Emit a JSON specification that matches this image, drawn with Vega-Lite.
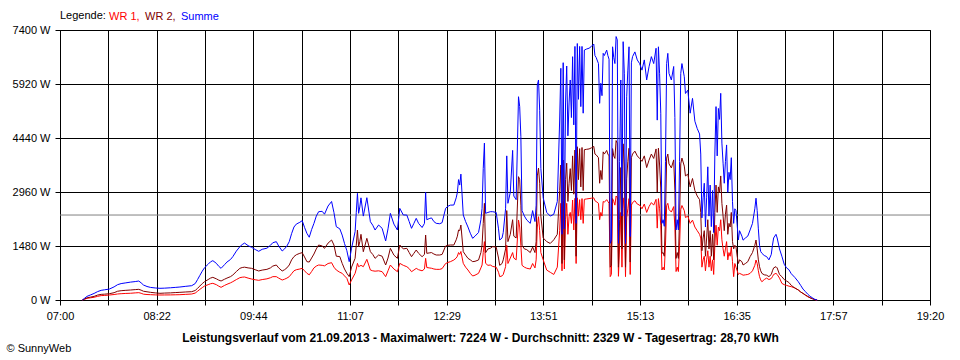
{
  "$schema": "https://vega.github.io/schema/vega-lite/v6.json",
  "width": 870,
  "height": 270,
  "autosize": {"type": "none"},
  "padding": {"left": 60, "top": 30, "right": 30, "bottom": 60},
  "background": "white",
  "config": {
    "view": {"stroke": "black", "strokeWidth": 1},
    "font": "Liberation Sans",
    "axis": {
      "labelFont": "Liberation Sans", "labelFontSize": 11, "labelColor": "black",
      "titleFont": "Liberation Sans", "titleColor": "black",
      "grid": true, "gridColor": "black", "gridOpacity": 1, "gridWidth": 1,
      "domainColor": "black", "tickColor": "black", "tickSize": 5
    },
    "legend": {
      "labelFont": "Liberation Sans", "titleFont": "Liberation Sans"
    }
  },
  "data": {
    "values": [
      {"t":439,"WR1":0,"WR2":0,"Summe":0},
      {"t":441,"WR1":20,"WR2":30,"Summe":50},
      {"t":443,"WR1":45,"WR2":60,"Summe":100},
      {"t":446,"WR1":60,"WR2":80,"Summe":140},
      {"t":449,"WR1":75,"WR2":100,"Summe":180},
      {"t":452,"WR1":100,"WR2":135,"Summe":230},
      {"t":455,"WR1":120,"WR2":155,"Summe":265},
      {"t":458,"WR1":125,"WR2":160,"Summe":280},
      {"t":462,"WR1":137,"WR2":173,"Summe":300},
      {"t":466,"WR1":150,"WR2":200,"Summe":360},
      {"t":469,"WR1":165,"WR2":240,"Summe":420},
      {"t":472,"WR1":173,"WR2":255,"Summe":450},
      {"t":476,"WR1":180,"WR2":265,"Summe":470},
      {"t":480,"WR1":185,"WR2":274,"Summe":490},
      {"t":484,"WR1":195,"WR2":285,"Summe":505},
      {"t":487,"WR1":201,"WR2":292,"Summe":520},
      {"t":489,"WR1":185,"WR2":270,"Summe":470},
      {"t":491,"WR1":160,"WR2":240,"Summe":411},
      {"t":494,"WR1":150,"WR2":225,"Summe":370},
      {"t":497,"WR1":146,"WR2":210,"Summe":345},
      {"t":501,"WR1":140,"WR2":195,"Summe":330},
      {"t":505,"WR1":137,"WR2":183,"Summe":320},
      {"t":509,"WR1":138,"WR2":190,"Summe":325},
      {"t":514,"WR1":140,"WR2":195,"Summe":335},
      {"t":518,"WR1":143,"WR2":203,"Summe":345},
      {"t":522,"WR1":146,"WR2":210,"Summe":356},
      {"t":527,"WR1":155,"WR2":220,"Summe":375},
      {"t":532,"WR1":164,"WR2":228,"Summe":392},
      {"t":535,"WR1":190,"WR2":260,"Summe":450},
      {"t":537,"WR1":240,"WR2":320,"Summe":560},
      {"t":539,"WR1":292,"WR2":384,"Summe":676},
      {"t":541,"WR1":340,"WR2":450,"Summe":790},
      {"t":543,"WR1":384,"WR2":503,"Summe":887},
      {"t":546,"WR1":420,"WR2":560,"Summe":980},
      {"t":548,"WR1":445,"WR2":600,"Summe":1045},
      {"t":550,"WR1":457,"WR2":621,"Summe":1078},
      {"t":553,"WR1":420,"WR2":580,"Summe":1005},
      {"t":555,"WR1":380,"WR2":545,"Summe":925},
      {"t":557,"WR1":347,"WR2":521,"Summe":868},
      {"t":560,"WR1":400,"WR2":570,"Summe":970},
      {"t":562,"WR1":430,"WR2":600,"Summe":1040},
      {"t":565,"WR1":470,"WR2":640,"Summe":1110},
      {"t":567,"WR1":503,"WR2":685,"Summe":1188},
      {"t":570,"WR1":560,"WR2":780,"Summe":1340},
      {"t":573,"WR1":612,"WR2":868,"Summe":1462},
      {"t":575,"WR1":625,"WR2":890,"Summe":1520},
      {"t":577,"WR1":630,"WR2":900,"Summe":1560},
      {"t":580,"WR1":600,"WR2":880,"Summe":1490},
      {"t":583,"WR1":575,"WR2":868,"Summe":1443},
      {"t":586,"WR1":555,"WR2":830,"Summe":1385},
      {"t":589,"WR1":539,"WR2":795,"Summe":1334},
      {"t":592,"WR1":560,"WR2":820,"Summe":1390},
      {"t":596,"WR1":580,"WR2":840,"Summe":1420},
      {"t":599,"WR1":610,"WR2":880,"Summe":1500},
      {"t":601,"WR1":640,"WR2":930,"Summe":1570},
      {"t":604,"WR1":640,"WR2":959,"Summe":1599},
      {"t":606,"WR1":600,"WR2":880,"Summe":1480},
      {"t":609,"WR1":548,"WR2":795,"Summe":1343},
      {"t":611,"WR1":570,"WR2":830,"Summe":1400},
      {"t":613,"WR1":600,"WR2":880,"Summe":1480},
      {"t":615,"WR1":640,"WR2":960,"Summe":1600},
      {"t":617,"WR1":720,"WR2":1100,"Summe":1820},
      {"t":619,"WR1":800,"WR2":1190,"Summe":2000},
      {"t":621,"WR1":830,"WR2":1240,"Summe":2080},
      {"t":624,"WR1":850,"WR2":1280,"Summe":2130},
      {"t":626,"WR1":868,"WR2":1297,"Summe":2174},
      {"t":628,"WR1":800,"WR2":1180,"Summe":1990},
      {"t":630,"WR1":731,"WR2":1051,"Summe":1827},
      {"t":632,"WR1":690,"WR2":1040,"Summe":1720},
      {"t":634,"WR1":780,"WR2":1150,"Summe":1930},
      {"t":636,"WR1":880,"WR2":1260,"Summe":2100},
      {"t":638,"WR1":930,"WR2":1400,"Summe":2300},
      {"t":640,"WR1":959,"WR2":1507,"Summe":2420},
      {"t":643,"WR1":950,"WR2":1480,"Summe":2430},
      {"t":645,"WR1":936,"WR2":1416,"Summe":2352},
      {"t":648,"WR1":1000,"WR2":1560,"Summe":2576},
      {"t":651,"WR1":1023,"WR2":1644,"Summe":2700},
      {"t":653,"WR1":900,"WR2":1507,"Summe":2400},
      {"t":655,"WR1":822,"WR2":1200,"Summe":2010},
      {"t":658,"WR1":760,"WR2":1190,"Summe":1950},
      {"t":660,"WR1":731,"WR2":1005,"Summe":1780},
      {"t":662,"WR1":660,"WR2":850,"Summe":1550},
      {"t":664,"WR1":594,"WR2":731,"Summe":1350},
      {"t":666,"WR1":411,"WR2":640,"Summe":1051},
      {"t":668,"WR1":550,"WR2":900,"Summe":1420},
      {"t":671,"WR1":731,"WR2":1142,"Summe":1873},
      {"t":672,"WR1":850,"WR2":1500,"Summe":2400},
      {"t":673,"WR1":1005,"WR2":1918,"Summe":2923},
      {"t":674,"WR1":913,"WR2":1462,"Summe":2375},
      {"t":675,"WR1":930,"WR2":1600,"Summe":2550},
      {"t":676,"WR1":950,"WR2":1800,"Summe":2800},
      {"t":678,"WR1":913,"WR2":1324,"Summe":2300},
      {"t":681,"WR1":1114,"WR2":1690,"Summe":2804},
      {"t":684,"WR1":822,"WR2":1324,"Summe":2146},
      {"t":686,"WR1":800,"WR2":1250,"Summe":2050},
      {"t":688,"WR1":790,"WR2":1142,"Summe":1918},
      {"t":691,"WR1":800,"WR2":1233,"Summe":2055},
      {"t":694,"WR1":776,"WR2":1200,"Summe":1964},
      {"t":697,"WR1":640,"WR2":959,"Summe":1620},
      {"t":699,"WR1":800,"WR2":1150,"Summe":1950},
      {"t":701,"WR1":959,"WR2":1416,"Summe":2375},
      {"t":704,"WR1":850,"WR2":1230,"Summe":2080},
      {"t":707,"WR1":776,"WR2":1142,"Summe":1918},
      {"t":709,"WR1":1005,"WR2":1507,"Summe":2512},
      {"t":712,"WR1":950,"WR2":1400,"Summe":2330},
      {"t":715,"WR1":913,"WR2":1416,"Summe":2329},
      {"t":717,"WR1":860,"WR2":1300,"Summe":2150},
      {"t":719,"WR1":776,"WR2":1187,"Summe":1964},
      {"t":721,"WR1":820,"WR2":1280,"Summe":2100},
      {"t":723,"WR1":867,"WR2":1370,"Summe":2238},
      {"t":725,"WR1":830,"WR2":1280,"Summe":2100},
      {"t":728,"WR1":800,"WR2":1187,"Summe":1987},
      {"t":730,"WR1":850,"WR2":1250,"Summe":2100},
      {"t":731,"WR1":1142,"WR2":1781,"Summe":2950},
      {"t":732,"WR1":890,"WR2":1279,"Summe":2200},
      {"t":734,"WR1":880,"WR2":1290,"Summe":2230},
      {"t":736,"WR1":870,"WR2":1300,"Summe":2250},
      {"t":738,"WR1":850,"WR2":1260,"Summe":2150},
      {"t":740,"WR1":840,"WR2":1233,"Summe":2101},
      {"t":743,"WR1":840,"WR2":1233,"Summe":2090},
      {"t":745,"WR1":860,"WR2":1250,"Summe":2120},
      {"t":748,"WR1":1000,"WR2":1480,"Summe":2512},
      {"t":750,"WR1":1030,"WR2":1500,"Summe":2570},
      {"t":752,"WR1":1050,"WR2":1507,"Summe":2600},
      {"t":755,"WR1":1096,"WR2":1507,"Summe":2603},
      {"t":757,"WR1":1150,"WR2":1650,"Summe":2800},
      {"t":758,"WR1":1200,"WR2":1750,"Summe":2950},
      {"t":759,"WR1":1300,"WR2":1918,"Summe":3300},
      {"t":760,"WR1":1250,"WR2":1900,"Summe":3150},
      {"t":761,"WR1":1330,"WR2":2055,"Summe":3450},
      {"t":763,"WR1":1005,"WR2":1324,"Summe":2330},
      {"t":765,"WR1":900,"WR2":1230,"Summe":2150},
      {"t":767,"WR1":822,"WR2":1142,"Summe":2000},
      {"t":769,"WR1":730,"WR2":1100,"Summe":1830},
      {"t":771,"WR1":658,"WR2":1051,"Summe":1690},
      {"t":773,"WR1":680,"WR2":1060,"Summe":1750},
      {"t":776,"WR1":731,"WR2":1096,"Summe":1850},
      {"t":778,"WR1":880,"WR2":1300,"Summe":2200},
      {"t":779,"WR1":959,"WR2":1507,"Summe":2512},
      {"t":780,"WR1":1300,"WR2":2100,"Summe":3600},
      {"t":781,"WR1":1600,"WR2":2650,"Summe":4300},
      {"t":782,"WR1":1005,"WR2":1296,"Summe":2375},
      {"t":784,"WR1":950,"WR2":1400,"Summe":2400},
      {"t":786,"WR1":959,"WR2":1416,"Summe":2420},
      {"t":788,"WR1":920,"WR2":1462,"Summe":2420},
      {"t":791,"WR1":900,"WR2":1450,"Summe":2400},
      {"t":793,"WR1":760,"WR2":1150,"Summe":1950},
      {"t":794,"WR1":640,"WR2":950,"Summe":1644},
      {"t":796,"WR1":660,"WR2":1000,"Summe":1700},
      {"t":797,"WR1":700,"WR2":1100,"Summe":1850},
      {"t":799,"WR1":913,"WR2":1400,"Summe":2500},
      {"t":800,"WR1":1500,"WR2":2450,"Summe":3950},
      {"t":801,"WR1":1000,"WR2":1600,"Summe":2650},
      {"t":803,"WR1":1150,"WR2":1800,"Summe":2950},
      {"t":805,"WR1":1300,"WR2":2200,"Summe":4100},
      {"t":806,"WR1":1150,"WR2":1750,"Summe":2850},
      {"t":808,"WR1":1100,"WR2":1700,"Summe":2750},
      {"t":810,"WR1":2193,"WR2":3380,"Summe":5571},
      {"t":811,"WR1":2000,"WR2":3300,"Summe":5300},
      {"t":812,"WR1":1500,"WR2":2600,"Summe":4476},
      {"t":813,"WR1":950,"WR2":1500,"Summe":2450},
      {"t":815,"WR1":900,"WR2":1400,"Summe":2300},
      {"t":817,"WR1":870,"WR2":1380,"Summe":2193},
      {"t":820,"WR1":850,"WR2":1300,"Summe":2100},
      {"t":822,"WR1":1000,"WR2":1450,"Summe":2450},
      {"t":824,"WR1":880,"WR2":1300,"Summe":2150},
      {"t":825,"WR1":1100,"WR2":1600,"Summe":2600},
      {"t":826,"WR1":2000,"WR2":3400,"Summe":5892},
      {"t":827,"WR1":2283,"WR2":3617,"Summe":6030},
      {"t":828,"WR1":1900,"WR2":3200,"Summe":5200},
      {"t":829,"WR1":1300,"WR2":2300,"Summe":3600},
      {"t":831,"WR1":1100,"WR2":1700,"Summe":2800},
      {"t":834,"WR1":820,"WR2":1600,"Summe":2400},
      {"t":837,"WR1":760,"WR2":1550,"Summe":2300},
      {"t":840,"WR1":700,"WR2":1650,"Summe":2350},
      {"t":843,"WR1":900,"WR2":1800,"Summe":2700},
      {"t":845,"WR1":1900,"WR2":3000,"Summe":4933},
      {"t":846,"WR1":2650,"WR2":3700,"Summe":6350},
      {"t":847,"WR1":800,"WR2":1000,"Summe":1800},
      {"t":848,"WR1":2700,"WR2":3837,"Summe":6504},
      {"t":849,"WR1":850,"WR2":1100,"Summe":1950},
      {"t":850,"WR1":2200,"WR2":3300,"Summe":5400},
      {"t":851,"WR1":2650,"WR2":3750,"Summe":6413},
      {"t":852,"WR1":1800,"WR2":2700,"Summe":4500},
      {"t":853,"WR1":2283,"WR2":3200,"Summe":5400},
      {"t":854,"WR1":2400,"WR2":3600,"Summe":6030},
      {"t":855,"WR1":2100,"WR2":3000,"Summe":5000},
      {"t":856,"WR1":2740,"WR2":3950,"Summe":6669},
      {"t":857,"WR1":1918,"WR2":2900,"Summe":4800},
      {"t":858,"WR1":2786,"WR2":4110,"Summe":6950},
      {"t":859,"WR1":1000,"WR2":1200,"Summe":2100},
      {"t":860,"WR1":2800,"WR2":4200,"Summe":7030},
      {"t":861,"WR1":2300,"WR2":3300,"Summe":5500},
      {"t":862,"WR1":2750,"WR2":4150,"Summe":6950},
      {"t":863,"WR1":2200,"WR2":3100,"Summe":5300},
      {"t":864,"WR1":2780,"WR2":4180,"Summe":6950},
      {"t":865,"WR1":2100,"WR2":3000,"Summe":5120},
      {"t":866,"WR1":2760,"WR2":4120,"Summe":6850},
      {"t":868,"WR1":2770,"WR2":4130,"Summe":6880},
      {"t":870,"WR1":2780,"WR2":4140,"Summe":6900},
      {"t":872,"WR1":2790,"WR2":4170,"Summe":6950},
      {"t":874,"WR1":2800,"WR2":4210,"Summe":7016},
      {"t":875,"WR1":2720,"WR2":4000,"Summe":6700},
      {"t":876,"WR1":2700,"WR2":3980,"Summe":6650},
      {"t":878,"WR1":2650,"WR2":3900,"Summe":6480},
      {"t":879,"WR1":2200,"WR2":3200,"Summe":5390},
      {"t":880,"WR1":2400,"WR2":3550,"Summe":5940},
      {"t":881,"WR1":2300,"WR2":3300,"Summe":5600},
      {"t":882,"WR1":2700,"WR2":4060,"Summe":6760},
      {"t":883,"WR1":2680,"WR2":4000,"Summe":6700},
      {"t":885,"WR1":2750,"WR2":4100,"Summe":6850},
      {"t":886,"WR1":2700,"WR2":4000,"Summe":6700},
      {"t":887,"WR1":2650,"WR2":3950,"Summe":6600},
      {"t":888,"WR1":640,"WR2":900,"Summe":1553},
      {"t":889,"WR1":700,"WR2":950,"Summe":1650},
      {"t":890,"WR1":2780,"WR2":4150,"Summe":6940},
      {"t":891,"WR1":2700,"WR2":3950,"Summe":6650},
      {"t":892,"WR1":2600,"WR2":3880,"Summe":6480},
      {"t":893,"WR1":2850,"WR2":4370,"Summe":7220},
      {"t":894,"WR1":2800,"WR2":4300,"Summe":7130},
      {"t":895,"WR1":650,"WR2":900,"Summe":1553},
      {"t":896,"WR1":1500,"WR2":2200,"Summe":3800},
      {"t":897,"WR1":2400,"WR2":3630,"Summe":6030},
      {"t":898,"WR1":900,"WR2":1400,"Summe":2300},
      {"t":899,"WR1":2800,"WR2":4280,"Summe":7080},
      {"t":900,"WR1":2500,"WR2":3700,"Summe":6200},
      {"t":901,"WR1":640,"WR2":900,"Summe":1553},
      {"t":902,"WR1":2250,"WR2":3320,"Summe":5570},
      {"t":903,"WR1":2500,"WR2":3800,"Summe":6300},
      {"t":904,"WR1":2780,"WR2":4160,"Summe":6940},
      {"t":905,"WR1":700,"WR2":1040,"Summe":1740},
      {"t":906,"WR1":2600,"WR2":3900,"Summe":6500},
      {"t":907,"WR1":2670,"WR2":4000,"Summe":6670},
      {"t":909,"WR1":2720,"WR2":4080,"Summe":6800},
      {"t":911,"WR1":2630,"WR2":3950,"Summe":6580},
      {"t":913,"WR1":2600,"WR2":3880,"Summe":6480},
      {"t":915,"WR1":2500,"WR2":3800,"Summe":6300},
      {"t":917,"WR1":2630,"WR2":3950,"Summe":6580},
      {"t":919,"WR1":2400,"WR2":3630,"Summe":6030},
      {"t":921,"WR1":2560,"WR2":3830,"Summe":6390},
      {"t":923,"WR1":2670,"WR2":4000,"Summe":6670},
      {"t":925,"WR1":2600,"WR2":3880,"Summe":6480},
      {"t":927,"WR1":2760,"WR2":4140,"Summe":6900},
      {"t":928,"WR1":1970,"WR2":2960,"Summe":4930},
      {"t":929,"WR1":2780,"WR2":4160,"Summe":6940},
      {"t":930,"WR1":2500,"WR2":3700,"Summe":6200},
      {"t":931,"WR1":2050,"WR2":3070,"Summe":5120},
      {"t":932,"WR1":822,"WR2":1280,"Summe":2100},
      {"t":933,"WR1":900,"WR2":1300,"Summe":2200},
      {"t":934,"WR1":822,"WR2":1200,"Summe":2020},
      {"t":935,"WR1":1500,"WR2":2300,"Summe":3800},
      {"t":936,"WR1":2590,"WR2":3890,"Summe":6480},
      {"t":937,"WR1":2650,"WR2":4000,"Summe":6760},
      {"t":938,"WR1":2480,"WR2":3730,"Summe":6210},
      {"t":940,"WR1":2410,"WR2":3620,"Summe":6030},
      {"t":942,"WR1":2560,"WR2":3840,"Summe":6400},
      {"t":943,"WR1":2000,"WR2":3000,"Summe":5000},
      {"t":944,"WR1":780,"WR2":1140,"Summe":1919},
      {"t":945,"WR1":900,"WR2":1300,"Summe":2200},
      {"t":946,"WR1":780,"WR2":1140,"Summe":1919},
      {"t":947,"WR1":1500,"WR2":2300,"Summe":3800},
      {"t":948,"WR1":2480,"WR2":3730,"Summe":6210},
      {"t":949,"WR1":2590,"WR2":3890,"Summe":6480},
      {"t":951,"WR1":2450,"WR2":3670,"Summe":6120},
      {"t":952,"WR1":2260,"WR2":3400,"Summe":5660},
      {"t":954,"WR1":2300,"WR2":3450,"Summe":5750},
      {"t":956,"WR1":2100,"WR2":3100,"Summe":5120},
      {"t":958,"WR1":2190,"WR2":3330,"Summe":5526},
      {"t":960,"WR1":2000,"WR2":3000,"Summe":4900},
      {"t":962,"WR1":1900,"WR2":2850,"Summe":4700},
      {"t":964,"WR1":1800,"WR2":2750,"Summe":4550},
      {"t":965,"WR1":1700,"WR2":2400,"Summe":4000},
      {"t":966,"WR1":900,"WR2":1350,"Summe":2250},
      {"t":967,"WR1":1100,"WR2":1700,"Summe":2800},
      {"t":968,"WR1":1200,"WR2":1900,"Summe":3200},
      {"t":969,"WR1":800,"WR2":1200,"Summe":2000},
      {"t":970,"WR1":1100,"WR2":1700,"Summe":2800},
      {"t":971,"WR1":1350,"WR2":2200,"Summe":3650},
      {"t":972,"WR1":900,"WR2":1400,"Summe":2300},
      {"t":973,"WR1":1200,"WR2":1900,"Summe":3150},
      {"t":974,"WR1":800,"WR2":1200,"Summe":2010},
      {"t":975,"WR1":1100,"WR2":1800,"Summe":3000},
      {"t":976,"WR1":700,"WR2":1100,"Summe":1850},
      {"t":977,"WR1":1500,"WR2":2400,"Summe":4000},
      {"t":978,"WR1":2050,"WR2":3150,"Summe":5300},
      {"t":979,"WR1":1500,"WR2":2400,"Summe":3950},
      {"t":980,"WR1":2000,"WR2":3100,"Summe":5250},
      {"t":981,"WR1":1900,"WR2":2950,"Summe":4950},
      {"t":982,"WR1":2200,"WR2":3400,"Summe":5664},
      {"t":983,"WR1":1650,"WR2":2650,"Summe":4300},
      {"t":984,"WR1":1400,"WR2":2300,"Summe":3750},
      {"t":985,"WR1":1200,"WR2":1900,"Summe":3200},
      {"t":986,"WR1":1400,"WR2":2350,"Summe":3800},
      {"t":987,"WR1":1600,"WR2":2600,"Summe":4250},
      {"t":988,"WR1":1100,"WR2":1800,"Summe":2950},
      {"t":989,"WR1":1300,"WR2":2100,"Summe":3500},
      {"t":990,"WR1":1200,"WR2":2000,"Summe":3300},
      {"t":991,"WR1":1450,"WR2":2400,"Summe":3900},
      {"t":992,"WR1":1050,"WR2":1600,"Summe":2700},
      {"t":993,"WR1":640,"WR2":1400,"Summe":2100},
      {"t":994,"WR1":1000,"WR2":1500,"Summe":2500},
      {"t":995,"WR1":900,"WR2":1450,"Summe":2450},
      {"t":996,"WR1":800,"WR2":1200,"Summe":2050},
      {"t":997,"WR1":700,"WR2":1000,"Summe":1644},
      {"t":998,"WR1":730,"WR2":1100,"Summe":1900},
      {"t":1000,"WR1":700,"WR2":1050,"Summe":1750},
      {"t":1001,"WR1":680,"WR2":960,"Summe":1640},
      {"t":1003,"WR1":690,"WR2":1000,"Summe":1700},
      {"t":1005,"WR1":700,"WR2":1050,"Summe":1750},
      {"t":1007,"WR1":730,"WR2":1190,"Summe":1920},
      {"t":1009,"WR1":800,"WR2":1300,"Summe":2100},
      {"t":1011,"WR1":950,"WR2":1500,"Summe":2500},
      {"t":1012,"WR1":1096,"WR2":1644,"Summe":2790},
      {"t":1013,"WR1":1000,"WR2":1400,"Summe":2450},
      {"t":1014,"WR1":800,"WR2":1100,"Summe":1950},
      {"t":1015,"WR1":640,"WR2":913,"Summe":1500},
      {"t":1016,"WR1":550,"WR2":800,"Summe":1330},
      {"t":1017,"WR1":500,"WR2":730,"Summe":1280},
      {"t":1019,"WR1":560,"WR2":690,"Summe":1220},
      {"t":1021,"WR1":600,"WR2":680,"Summe":1190},
      {"t":1023,"WR1":560,"WR2":640,"Summe":1100},
      {"t":1025,"WR1":590,"WR2":700,"Summe":1250},
      {"t":1026,"WR1":640,"WR2":800,"Summe":1500},
      {"t":1027,"WR1":700,"WR2":880,"Summe":1700},
      {"t":1029,"WR1":730,"WR2":913,"Summe":1800},
      {"t":1030,"WR1":700,"WR2":880,"Summe":1700},
      {"t":1032,"WR1":600,"WR2":700,"Summe":1400},
      {"t":1034,"WR1":456,"WR2":640,"Summe":1200},
      {"t":1036,"WR1":420,"WR2":560,"Summe":980},
      {"t":1038,"WR1":400,"WR2":520,"Summe":880},
      {"t":1040,"WR1":380,"WR2":480,"Summe":830},
      {"t":1042,"WR1":365,"WR2":400,"Summe":720},
      {"t":1045,"WR1":330,"WR2":330,"Summe":620},
      {"t":1048,"WR1":274,"WR2":274,"Summe":500},
      {"t":1050,"WR1":220,"WR2":220,"Summe":400},
      {"t":1052,"WR1":180,"WR2":180,"Summe":300},
      {"t":1054,"WR1":130,"WR2":140,"Summe":230},
      {"t":1056,"WR1":90,"WR2":100,"Summe":160},
      {"t":1058,"WR1":60,"WR2":60,"Summe":100},
      {"t":1060,"WR1":35,"WR2":35,"Summe":60},
      {"t":1062,"WR1":10,"WR2":10,"Summe":20},
      {"t":1064,"WR1":0,"WR2":0,"Summe":0}
    ]
  },
  "encoding": {
    "x": {
      "field": "t", "type": "quantitative",
      "scale": {"domain": [420, 1160], "nice": false, "zero": false},
      "axis": {
        "values": [420, 461.1111, 502.2222, 543.3333, 584.4444, 625.5556, 666.6667, 707.7778, 748.8889, 790, 831.1111, 872.2222, 913.3333, 954.4444, 995.5556, 1036.6667, 1077.7778, 1118.8889, 1160],
        "labelExpr": "['07:00','','08:22','','09:44','','11:07','','12:29','','13:51','','15:13','','16:35','','17:57','','19:20'][round((datum.value-420)/41.11111)]",
        "labelPadding": 5,
        "labelFlush": false,
        "labelOverlap": false,
        "title": "Leistungsverlauf vom 21.09.2013 - Maximalwert: 7224 W - Durchschnitt: 2329 W - Tagesertrag: 28,70 kWh",
        "titleFontSize": 12,
        "titleFontWeight": "bold",
        "titleX": 420,
        "titleY": 37,
        "titleAlign": "center",
        "titleBaseline": "middle"
      }
    }
  },
  "layer": [
    {
      "data": {"values": [{"avg": 2329}]},
      "mark": {"type": "rule", "color": "#808080", "strokeWidth": 1},
      "encoding": {"y": {"field": "avg", "type": "quantitative"}, "x": null}
    },
    {
      "mark": {"type": "line", "strokeWidth": 1},
      "encoding": {
        "y": {
          "field": "WR1", "type": "quantitative",
          "scale": {"domain": [0, 7400], "nice": false},
          "axis": {
            "values": [0, 1480, 2960, 4440, 5920, 7400],
            "labelExpr": "datum.value + ' W'",
            "labelPadding": 5,
            "title": "© SunnyWeb",
            "titleAngle": 0,
            "titleFontSize": 11,
            "titleFontWeight": "normal",
            "titleX": -54,
            "titleY": 318,
            "titleAlign": "left",
            "titleBaseline": "middle"
          }
        },
        "color": {
          "datum": "WR 1",
          "scale": {"domain": ["WR 1", "WR 2", "Summe"], "range": ["#ff0000", "#800000", "#0000ff"]},
          "legend": {
            "title": "Legende:",
            "orient": "none",
            "legendX": 0,
            "legendY": -19,
            "direction": "horizontal",
            "titleOrient": "left",
            "titleFontSize": 11,
            "titleFontWeight": "normal",
            "titleColor": "black",
            "titlePadding": 2,
            "labelFontSize": 11,
            "labelOffset": -10,
            "columnPadding": 4,
            "symbolSize": 0,
            "symbolStrokeWidth": 0,
            "symbolOpacity": 0,
            "padding": 0,
            "labelExpr": "datum.label == 'Summe' ? 'Summe' : datum.label + ','",
            "encode": {"labels": {"update": {"fill": {"scale": "color", "field": "value"}}}}
          }
        }
      }
    },
    {
      "mark": {"type": "line", "strokeWidth": 1},
      "encoding": {
        "y": {"field": "WR2", "type": "quantitative"},
        "color": {"datum": "WR 2"}
      }
    },
    {
      "mark": {"type": "line", "strokeWidth": 1},
      "encoding": {
        "y": {"field": "Summe", "type": "quantitative"},
        "color": {"datum": "Summe"}
      }
    }
  ]
}
